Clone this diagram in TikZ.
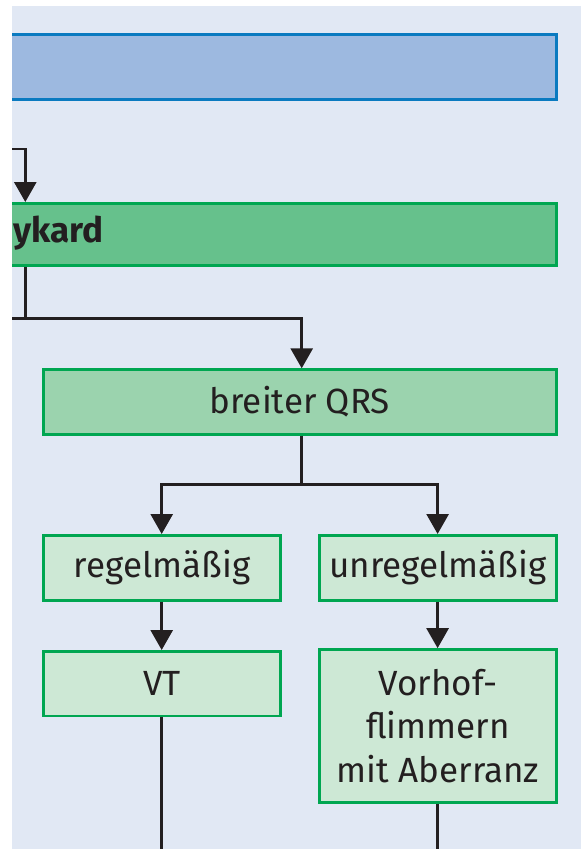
\documentclass[tikz,border=0pt]{standalone}
\usepackage{fontspec}
\setmainfont{Fira Sans}
\usetikzlibrary{arrows.meta}

\definecolor{panel}{HTML}{E1E8F4}
\definecolor{ink}{HTML}{231F20}
\definecolor{headfill}{HTML}{9DB9E0}
\definecolor{headline}{HTML}{0A7AC0}
\definecolor{edgegreen}{HTML}{00A651}
\definecolor{darkgreen}{HTML}{66C18C}
\definecolor{midgreen}{HTML}{9BD3AE}
\definecolor{palegreen}{HTML}{CDE8D5}

\begin{document}
\begin{tikzpicture}[x=1pt,y=-1pt,
  box/.style={rectangle, draw=edgegreen, line width=2.8pt, inner sep=0pt,
    text=ink, align=center, font=\fontsize{35}{43.5}\selectfont},
  headbox/.style={rectangle, draw=headline, fill=headfill, line width=2.7pt, inner sep=0pt},
  conn/.style={draw=ink, line width=2.8pt},
  arr/.style={conn, -{Triangle[width=22pt,length=20pt]}},
]
\useasboundingbox (0,0) rectangle (581,849);
\fill[white] (0,0) rectangle (581,849);
\fill[panel] (12,6) rectangle (581,849);

\begin{scope}
\clip (12,6) rectangle (581,849);

% column positions of the vertical connectors
\coordinate (cA) at (25.3,0);
\coordinate (cB) at (301.7,0);
\coordinate (cC) at (161.7,0);
\coordinate (cD) at (437.6,0);

% boxes
\node (head) [headbox, minimum width=576.35pt, minimum height=64.7pt] at (268.2,67) {};
\node (tachy) [box, fill=darkgreen, minimum width=576.3pt, minimum height=62.2pt] at (268.15,234.5) {};
\node (tachytext) [anchor=base east, text=ink, font=\fontsize{35}{43.5}\selectfont\bfseries, inner sep=0pt] at (104,242) {ykard};
\node (wide) [box, fill=midgreen, minimum width=512.9pt, minimum height=64.6pt] at (299.85,402) {breiter QRS};
\node (reg) [box, fill=palegreen, minimum width=237.2pt, minimum height=64.9pt] at (162,567.85) {regelmäßig};
\node (irr) [box, fill=palegreen, minimum width=236.6pt, minimum height=64.9pt] at (438,567.85) {unregelmäßig};
\node (vt) [box, fill=palegreen, minimum width=237.2pt, minimum height=64.5pt] at (162,683.65) {VT};
\node (af) [box, fill=palegreen, minimum width=236.6pt, minimum height=152.9pt] at (438,726) {Vorhof-\\flimmern\\mit Aberranz};

% free ends of the connectors
\coordinate (inTop) at (0,149);
\coordinate (inMid) at (0,318.3);
\coordinate (split) at (301.7,484.3);
\coordinate (outL) at (161.7,860);
\coordinate (outR) at (437.6,860);

% connectors
\draw[arr] (inTop) -| (tachy.north -| cA);
\draw[conn] (tachy.south -| cA) -- (inMid -| cA);
\draw[arr] (inMid) -| (wide.north -| cB);
\draw[conn] (wide.south -| cB) -- (split);
\draw[arr] (split) -| (reg.north -| cC);
\draw[arr] (split) -| (irr.north -| cD);
\draw[arr] (reg.south -| cC) -- (vt.north -| cC);
\draw[arr] (irr.south -| cD) -- (af.north -| cD);
\draw[conn] (vt.south -| cC) -- (outL);
\draw[conn] (af.south -| cD) -- (outR);
\end{scope}
\end{tikzpicture}
\end{document}
